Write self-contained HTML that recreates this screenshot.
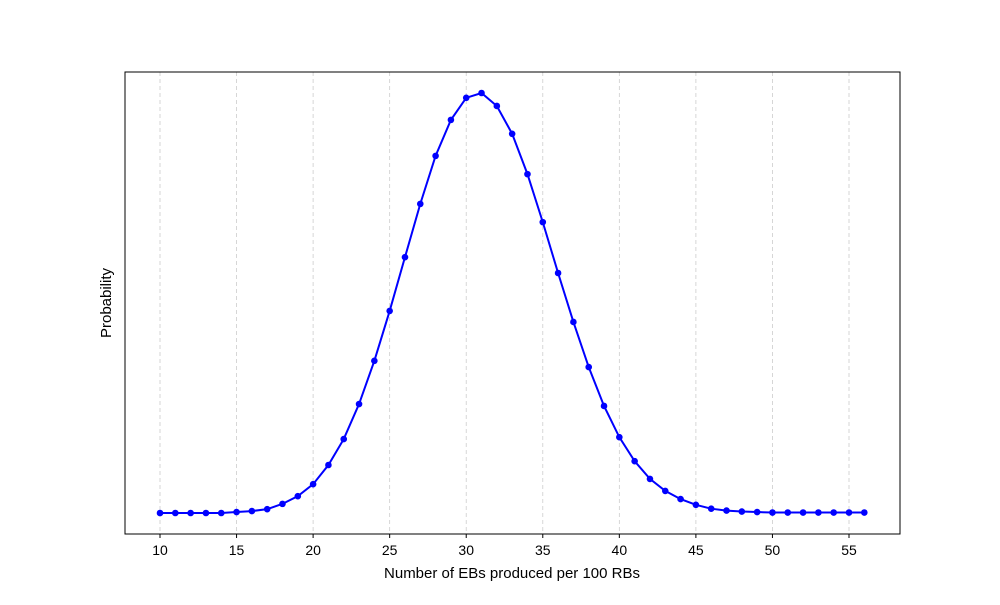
<!DOCTYPE html>
<html><head><meta charset="utf-8"><style>
body{margin:0;background:#fff;}
svg text{font-family:"Liberation Sans",sans-serif;fill:#000;}
</style></head><body>
<svg id="chart" width="1000" height="600" xmlns="http://www.w3.org/2000/svg">
<rect x="0" y="0" width="1000" height="600" fill="#fff"/>
<g id="grid"></g><g id="series"></g><g id="axes"></g>
<rect x="125" y="72" width="775" height="462" fill="none" stroke="#000" stroke-width="1"/>
<text x="512" y="578" font-size="15" text-anchor="middle">Number of EBs produced per 100 RBs</text>
<text transform="translate(111,303) rotate(-90)" font-size="15" text-anchor="middle">Probability</text>
</svg>
<script>
const xValues = [10,11,12,13,14,15,16,17,18,19,20,21,22,23,24,25,26,27,28,29,30,31,32,33,34,35,36,37,38,39,40,41,42,43,44,45,46,47,48,49,50,51,52,53,54,55,56];
const probValues = [0,0,0,0,0,0.0002,0.0004,0.0008,0.0019,0.0035,0.006,0.01,0.0154,0.0227,0.0317,0.0421,0.0533,0.0644,0.0744,0.0819,0.0865,0.0875,0.0848,0.079,0.0706,0.0606,0.05,0.0398,0.0304,0.0223,0.0158,0.0108,0.0071,0.0046,0.0029,0.0017,0.0009,0.0005,0.0003,0.0002,0.0001,0.0001,0.0001,0.0001,0.0001,0.0001,0.0001];
const xTicks = [10,15,20,25,30,35,40,45,50,55];
const NS='http://www.w3.org/2000/svg';
const ymax=Math.max(...probValues);
const xs=v=>160+(v-10)*(849-160)/45;
const ys=v=>534-(v+0.05*ymax)/(1.1*ymax)*462;
const grid=document.getElementById('grid'),axes=document.getElementById('axes'),ser=document.getElementById('series');
function mk(tag,attrs,parent){const e=document.createElementNS(NS,tag);for(const k in attrs)e.setAttribute(k,attrs[k]);parent.appendChild(e);return e;}
xTicks.forEach(t=>{
  const x=xs(t);
  const g=mk('line',{x1:x,x2:x,y1:72,y2:534,stroke:'#ccc','stroke-dasharray':'4,3','stroke-width':0.8},grid);
  
  
  const tk=mk('line',{x1:x,x2:x,y1:534,y2:538,stroke:'#000'},axes);
  
  
  const lb=mk('text',{x:x,y:555,'font-size':14,'text-anchor':'middle'},axes);
  lb.textContent=t;
  
  
});
const pts=xValues.map((x,i)=>xs(x)+','+ys(probValues[i])).join(' ');
const line=mk('polyline',{points:pts,fill:'none',stroke:'#0000ff','stroke-width':2},ser);


xValues.forEach((x,i)=>{
  const c=mk('circle',{cx:xs(x),cy:ys(probValues[i]),r:3.3,fill:'#0000ff'},ser);
  
  
});
</script>
</body></html>
